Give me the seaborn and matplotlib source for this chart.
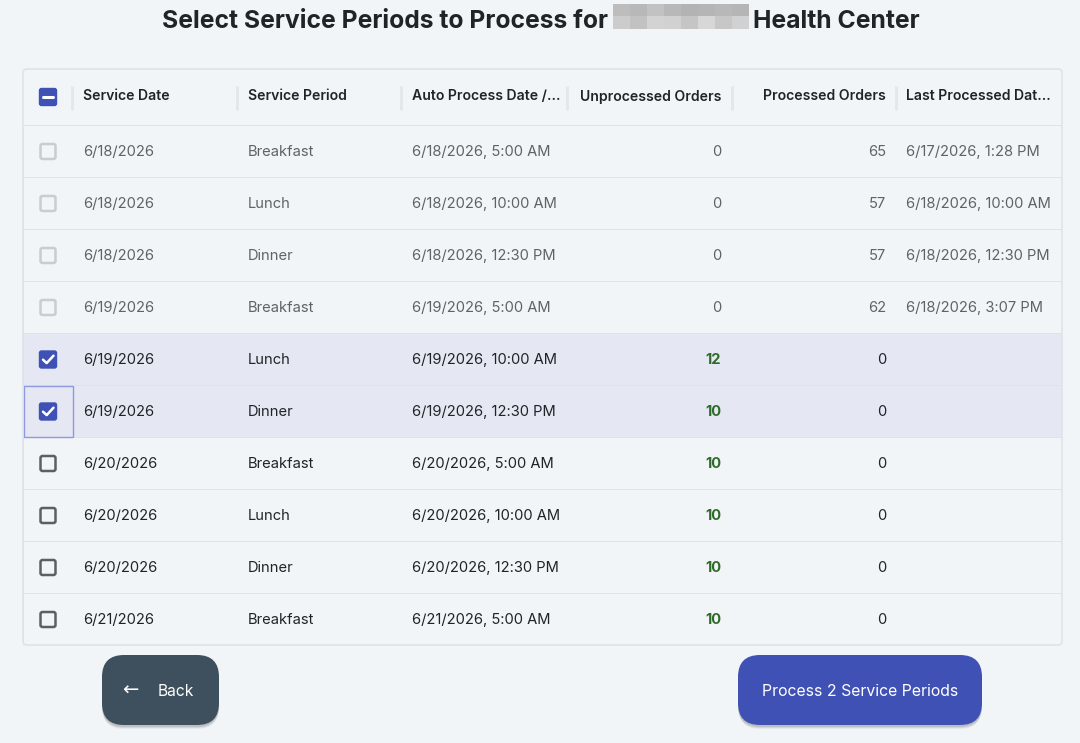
"""Service period selection table, redrawn with seaborn + matplotlib."""

import matplotlib.pyplot as plt
import numpy as np
import seaborn as sns
from matplotlib.colors import ListedColormap
from matplotlib.patches import FancyBboxPatch, Rectangle

# ---- data -------------------------------------------------------------
headers = ["Service Date", "Service Period", "Auto Process Date /…",
           "Unprocessed Orders", "Processed Orders", "Last Processed Dat…"]
service_dates = ["6/18/2026", "6/18/2026", "6/18/2026", "6/19/2026", "6/19/2026",
                 "6/19/2026", "6/20/2026", "6/20/2026", "6/20/2026", "6/21/2026"]
service_periods = ["Breakfast", "Lunch", "Dinner", "Breakfast", "Lunch",
                   "Dinner", "Breakfast", "Lunch", "Dinner", "Breakfast"]
auto_process = ["6/18/2026, 5:00 AM", "6/18/2026, 10:00 AM", "6/18/2026, 12:30 PM",
                "6/19/2026, 5:00 AM", "6/19/2026, 10:00 AM", "6/19/2026, 12:30 PM",
                "6/20/2026, 5:00 AM", "6/20/2026, 10:00 AM", "6/20/2026, 12:30 PM",
                "6/21/2026, 5:00 AM"]
unprocessed = [0, 0, 0, 0, 12, 10, 10, 10, 10, 10]
processed = [65, 57, 57, 62, 0, 0, 0, 0, 0, 0]
last_processed = ["6/17/2026, 1:28 PM", "6/18/2026, 10:00 AM", "6/18/2026, 12:30 PM",
                  "6/18/2026, 3:07 PM", "", "", "", "", "", ""]
selected = [0, 0, 0, 0, 1, 1, 0, 0, 0, 0]
focused_row = 5

title_left = "Select Service Periods to Process for"
title_right = "Health Center"
back_label = "Back"
process_label = f"Process {sum(selected)} Service Periods"

# ---- style ------------------------------------------------------------
W, H = 1080, 743
BG = "#f2f5f8"
SEL = "#e5e8f2"
GRID = "#dfe2e6"
INDIGO = "#3f51b5"
DARK = "#202428"
MUTED = "#5f6368"
GREEN = "#2e6b2a"
FS = 10.6

sns.set_theme(style="white")
plt.rcParams["font.family"] = ["Inter", "DejaVu Sans"]

fig = plt.figure(figsize=(W / 100, H / 100), dpi=100, facecolor=BG)

TOP, HEAD_BOT, ROW_H = 69, 125, 52
LEFT, RIGHT = 23, 1062
n = len(service_dates)
BOT = HEAD_BOT + ROW_H * n

# table body: one heatmap cell per row, shaded by selection
body = fig.add_axes([LEFT / W, 1 - BOT / H, (RIGHT - LEFT) / W, (BOT - HEAD_BOT) / H])
sns.heatmap(np.array(selected).reshape(-1, 1), ax=body, cmap=ListedColormap([BG, SEL]),
            vmin=0, vmax=1, cbar=False, linewidths=0.7, linecolor=GRID,
            xticklabels=False, yticklabels=False)
body.set_axis_off()

# overlay in pixel coordinates
ax = fig.add_axes([0, 0, 1, 1], zorder=3)
ax.set_xlim(0, W)
ax.set_ylim(H, 0)
ax.patch.set_alpha(0)
ax.set_axis_off()

# title with blurred name
ax.text(608, 28.5, title_left, ha="right", va="baseline", fontsize=17.8, fontweight="bold", color=DARK)
ax.text(753, 28.5, title_right, ha="left", va="baseline", fontsize=17.8, fontweight="bold", color=DARK)
blur = np.array([[0.74, 0.72, 0.76, 0.72, 0.70, 0.71, 0.72, 0.71],
                 [0.80, 0.76, 0.83, 0.82, 0.77, 0.84, 0.78, 0.82]])
ax.imshow(blur, cmap="gray", vmin=0, vmax=1, extent=(613, 749, 29, 4), aspect="auto",
          interpolation="nearest", zorder=2)

# table frame
ax.add_patch(FancyBboxPatch((LEFT, TOP), RIGHT - LEFT, BOT - TOP,
                            boxstyle="round,pad=0,rounding_size=4",
                            fc="none", ec=GRID, lw=1.2, zorder=4))

# header
col_x = [83, 248, 412, 721, 886, 906]
col_ha = ["left", "left", "left", "right", "right", "left"]
for label, x, ha in zip(headers, col_x, col_ha):
    ax.text(x, 100.5, label, ha=ha, va="baseline", fontsize=10.1, fontweight="semibold", color=DARK)
for x in [72, 237, 401, 567, 732, 896]:
    ax.plot([x, x], [86, 110], color="#e3e6ea", lw=2, solid_capstyle="butt")


def checkbox(cy, state):
    """state: 'disabled', 'off', 'on', 'mixed'"""
    size = 17
    x0, y0 = 48 - size / 2, cy - size / 2
    if state in ("on", "mixed"):
        ax.add_patch(FancyBboxPatch((x0, y0), size, size, boxstyle="round,pad=0,rounding_size=2",
                                    fc=INDIGO, ec=INDIGO, lw=1))
        if state == "on":
            ax.plot([43, 46.7, 53.5], [cy + 0.2, cy + 3.6, cy - 3.8], color="white", lw=1.8,
                    solid_capstyle="round", solid_joinstyle="round")
        else:
            ax.plot([43, 53], [cy, cy], color="white", lw=2.2)
    else:
        ec = "#c9ccd0" if state == "disabled" else "#5c5f63"
        ax.add_patch(FancyBboxPatch((x0 + 1, y0 + 1), size - 2, size - 2,
                                    boxstyle="round,pad=0,rounding_size=2",
                                    fc="none", ec=ec, lw=1.8))


checkbox(97, "mixed")

for i in range(n):
    cy = HEAD_BOT + ROW_H * i + ROW_H / 2 + 0.5
    base = cy + 4.5
    disabled = unprocessed[i] == 0
    color = MUTED if disabled else DARK
    checkbox(cy, "disabled" if disabled else ("on" if selected[i] else "off"))
    ax.text(col_x[0], base, service_dates[i], ha="left", va="baseline", fontsize=FS, color=color)
    ax.text(col_x[1], base, service_periods[i], ha="left", va="baseline", fontsize=FS, color=color)
    ax.text(col_x[2], base, auto_process[i], ha="left", va="baseline", fontsize=FS, color=color)
    if unprocessed[i] > 0:
        ax.text(col_x[3], base, str(unprocessed[i]), ha="right", va="baseline", fontsize=FS,
                fontweight="bold", color=GREEN)
    else:
        ax.text(col_x[3], base, str(unprocessed[i]), ha="right", va="baseline", fontsize=FS,
                color=color)
    ax.text(col_x[4], base, str(processed[i]), ha="right", va="baseline", fontsize=FS, color=color)
    ax.text(col_x[5], base, last_processed[i], ha="left", va="baseline", fontsize=FS, color=color)

# focus ring on the focused checkbox cell
fy = HEAD_BOT + ROW_H * focused_row
ax.add_patch(Rectangle((LEFT + 0.5, fy + 0.5), 49, ROW_H - 1, fc="none", ec="#8d9ae0", lw=1))


def button(x0, x1, color, zorder=5):
    y0, y1 = 655, 725
    for k, a in [(4, 0.05), (3, 0.08), (2, 0.10)]:
        ax.add_patch(FancyBboxPatch((x0, y0 + k), x1 - x0, y1 - y0,
                                    boxstyle="round,pad=0,rounding_size=22",
                                    fc="black", ec="none", alpha=a, zorder=zorder - 1))
    ax.add_patch(FancyBboxPatch((x0, y0), x1 - x0, y1 - y0,
                                boxstyle="round,pad=0,rounding_size=22",
                                fc=color, ec="none", zorder=zorder))


button(102, 219, "#3e505d")
ax.text(130, 690, "←", ha="center", va="center", fontsize=14, color="white", zorder=6,
        family=["DejaVu Sans"])
ax.text(158, 696, back_label, ha="left", va="baseline", fontsize=11.2, color="white", zorder=6)

button(738, 982, INDIGO)
ax.text(860, 696, process_label, ha="center", va="baseline", fontsize=11.4, color="white", zorder=6)

fig.savefig("out.png", dpi=100, facecolor=BG)
